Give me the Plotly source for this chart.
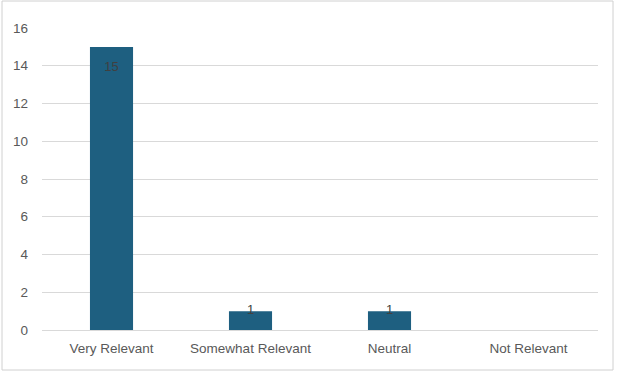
import plotly.graph_objects as go

categories = ["Very Relevant", "Somewhat Relevant", "Neutral", "Not Relevant"]
values = [15, 1, 1, 0]
labels = [str(v) if v else "" for v in values]
label_pos = ["bottom center", "middle center", "middle center", "middle center"]
y_ticks = [0, 2, 4, 6, 8, 10, 12, 14, 16]

W, H = 620, 373
L, R, T, B = 42, 22, 28, 43
pw, ph = W - L - R, H - T - B

fig = go.Figure()
fig.add_trace(go.Bar(
    x=categories, y=values,
    marker=dict(color="#1e5f80", line=dict(width=0)),
    hoverinfo="x+y",
))
fig.add_trace(go.Scatter(
    x=categories, y=values, text=labels, mode="markers+text",
    marker=dict(size=22, color="rgba(0,0,0,0)"),
    textposition=label_pos,
    textfont=dict(color="#404040", size=13, family="Liberation Sans"),
    cliponaxis=False, hoverinfo="skip",
))

def px(x):
    return (x - L) / pw

def py(y):
    return (H - B - y) / ph

fig.update_layout(
    width=W, height=H,
    margin=dict(l=L, r=R, t=T, b=B),
    paper_bgcolor="white", plot_bgcolor="white",
    bargap=0.69,
    showlegend=False,
    font=dict(family="Liberation Sans", color="#595959", size=13),
    xaxis=dict(showgrid=False, showline=True, linecolor="#d9d9d9", linewidth=1,
               ticks="", ticklabelstandoff=6, tickfont=dict(size=13.5, color="#595959")),
    yaxis=dict(range=[0, 16], tickvals=y_ticks, showgrid=True, gridcolor="#d9d9d9",
               zeroline=False, showline=False, ticks="",
               ticklabelstandoff=13, tickfont=dict(size=13.5, color="#595959")),
    shapes=[dict(type="rect", xref="paper", yref="paper",
                 x0=px(2), x1=px(613), y0=py(370), y1=py(1),
                 line=dict(color="#d0d0d0", width=1), layer="below")],
)

fig.write_html("out.html")
